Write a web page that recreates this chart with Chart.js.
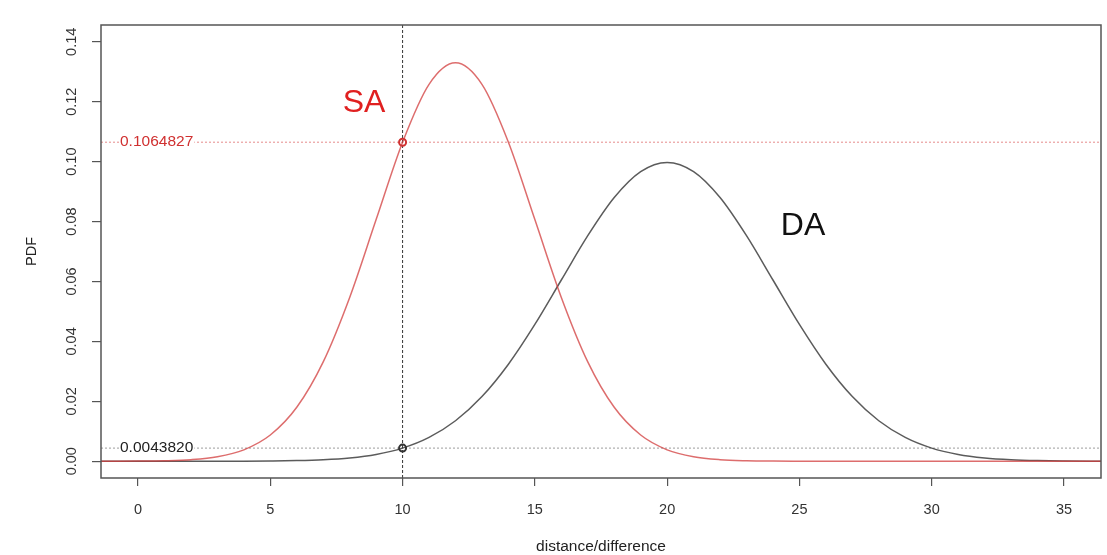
<!DOCTYPE html>
<html>
<head>
<meta charset="utf-8">
<script src="https://cdn.jsdelivr.net/npm/chart.js@4/dist/chart.umd.min.js"></script>
<style>
  html, body { margin: 0; padding: 0; background: #fff; }
  #wrap { width: 1107px; height: 555px; }
</style>
</head>
<body>
<div id="wrap"><canvas id="pdfChart"></canvas></div>
<script>
// x positions the curves were read at
const xValues = [-2, -1, 0, 1, 2, 3, 4, 5, 6, 7, 8, 9, 10, 11, 12, 13, 14, 15, 16, 17,
                 18, 19, 20, 21, 22, 23, 24, 25, 26, 27, 28, 29, 30, 31, 32, 33, 34, 35, 36, 37];
// SA curve (red)
const saPdf = [0, 0.00001, 0.00004, 0.00016, 0.00051, 0.00148, 0.0038, 0.00874, 0.018, 0.03316,
               0.05467, 0.08066, 0.10648, 0.12579, 0.13298, 0.12579, 0.10648, 0.08066, 0.05467, 0.03316,
               0.018, 0.00874, 0.0038, 0.00148, 0.00051, 0.00016, 0.00004, 0.00001, 0, 0,
               0, 0, 0, 0, 0, 0, 0, 0, 0, 0];
// DA curve (black)
const daPdf = [0, 0, 0, 0, 0, 0.00001, 0.00003, 0.00009, 0.00022, 0.00051,
               0.00111, 0.00227, 0.00438, 0.00794, 0.0135, 0.02157, 0.03238, 0.04566, 0.06049, 0.07528,
               0.08802, 0.09667, 0.09974, 0.09667, 0.08802, 0.07528, 0.06049, 0.04566, 0.03238, 0.02157,
               0.0135, 0.00794, 0.00438, 0.00227, 0.00111, 0.00051, 0.00022, 0.00009, 0.00003, 0.00001];
const xTicks = [0, 5, 10, 15, 20, 25, 30, 35];
const yTicks = [0, 0.02, 0.04, 0.06, 0.08, 0.10, 0.12, 0.14];
const yTickLabels = ["0.00", "0.02", "0.04", "0.06", "0.08", "0.10", "0.12", "0.14"];
const cutX = 10;
const saAtCut = 0.1064827;
const daAtCut = 0.0043820;
const saLabel = "0.1064827";
const daLabel = "0.0043820";

const RED = "rgba(210, 60, 60, 0.75)";
const DARK = "rgba(50, 50, 50, 0.8)";
const FONT = "'Liberation Sans', Arial, sans-serif";

const toPoints = ys => xValues.map((x, i) => ({ x: x, y: ys[i] }));

const decorations = {
    id: "decorations",
    beforeDatasetsDraw(chart) {
        const { ctx, chartArea: a, scales: { x, y } } = chart;
        ctx.save();
        ctx.lineWidth = 1;
        // horizontal guides
        ctx.setLineDash([2, 2]);
        ctx.strokeStyle = "rgba(220, 90, 90, 0.7)";
        let py = y.getPixelForValue(saAtCut);
        ctx.beginPath(); ctx.moveTo(a.left, py); ctx.lineTo(a.right, py); ctx.stroke();
        ctx.strokeStyle = "rgba(90, 90, 90, 0.6)";
        py = y.getPixelForValue(daAtCut);
        ctx.beginPath(); ctx.moveTo(a.left, py); ctx.lineTo(a.right, py); ctx.stroke();
        // vertical guide
        ctx.strokeStyle = "#333";
        ctx.setLineDash([3, 2]);
        const px = x.getPixelForValue(cutX);
        ctx.beginPath(); ctx.moveTo(px, a.top); ctx.lineTo(px, a.bottom); ctx.stroke();
        ctx.restore();
    },
    afterDraw(chart) {
        const { ctx, chartArea: a, scales: { x, y } } = chart;
        ctx.save();
        // box
        ctx.strokeStyle = "#555";
        ctx.lineWidth = 1.5;
        ctx.strokeRect(a.left, a.top, a.right - a.left, a.bottom - a.top);

        // value labels on the guides
        ctx.font = "15.5px " + FONT;
        ctx.textBaseline = "middle";
        ctx.textAlign = "left";
        [[saLabel, saAtCut, "#d03030"], [daLabel, daAtCut, "#222"]].forEach(([t, v, c]) => {
            const py = y.getPixelForValue(v);
            const w = ctx.measureText(t).width;
            ctx.fillStyle = "#fff";
            ctx.fillRect(119, py - 7, w + 2, 14);
            ctx.fillStyle = c;
            ctx.fillText(t, 120, py);
        });

        // rotated y tick labels
        ctx.font = "14.5px " + FONT;
        ctx.fillStyle = "#333";
        ctx.textAlign = "center";
        yTicks.forEach((v, i) => {
            ctx.save();
            ctx.translate(72, y.getPixelForValue(v));
            ctx.rotate(-Math.PI / 2);
            ctx.fillText(yTickLabels[i], 0, 0);
            ctx.restore();
        });

        // axis titles
        ctx.fillStyle = "#222";
        ctx.save();
        ctx.translate(32, (a.top + a.bottom) / 2);
        ctx.rotate(-Math.PI / 2);
        ctx.fillText("PDF", 0, 0);
        ctx.restore();
        ctx.font = "15.5px " + FONT;
        ctx.fillText("distance/difference", (a.left + a.right) / 2, 547);

        // curve names
        ctx.font = "32px " + FONT;
        ctx.fillStyle = "#e02020";
        ctx.fillText("SA", 364, 103);
        ctx.fillStyle = "#111";
        ctx.fillText("DA", 803, 226);
        ctx.restore();
    }
};

const chart = new Chart(document.getElementById("pdfChart"), {
    type: "line",
    data: {
        datasets: [
            {
                label: "SA",
                data: toPoints(saPdf),
                borderColor: RED,
                borderWidth: 1.5,
                pointRadius: 0,
                cubicInterpolationMode: "monotone"
            },
            {
                label: "DA",
                data: toPoints(daPdf),
                borderColor: DARK,
                borderWidth: 1.5,
                pointRadius: 0,
                cubicInterpolationMode: "monotone"
            },
            {
                label: "SA at cut",
                data: [{ x: cutX, y: saAtCut }],
                showLine: false,
                pointRadius: 3.5,
                pointBorderWidth: 2,
                pointBorderColor: "#d03030",
                pointBackgroundColor: "rgba(0,0,0,0)"
            },
            {
                label: "DA at cut",
                data: [{ x: cutX, y: daAtCut }],
                showLine: false,
                pointRadius: 3.5,
                pointBorderWidth: 2,
                pointBorderColor: "#333",
                pointBackgroundColor: "rgba(0,0,0,0)"
            }
        ]
    },
    options: {
        responsive: true,
        maintainAspectRatio: false,
        animation: false,
        layout: { padding: { top: 25, right: 5, left: 0, bottom: 0 } },
        plugins: { legend: { display: false }, tooltip: { enabled: false } },
        scales: {
            x: {
                type: "linear",
                min: -1.4,
                max: 36.4,
                afterBuildTicks: s => { s.ticks = xTicks.map(v => ({ value: v })); },
                afterFit: s => { s.height = 77; },
                grid: { drawOnChartArea: false, drawTicks: true, tickLength: 8, color: "#555", lineWidth: 1.2 },
                border: { display: false },
                ticks: { color: "#333", font: { size: 14.5, family: FONT }, padding: 15, maxRotation: 0 }
            },
            y: {
                min: -0.0056,
                max: 0.1456,
                afterBuildTicks: s => { s.ticks = yTicks.map(v => ({ value: v })); },
                afterFit: s => { s.width = 101; },
                grid: { drawOnChartArea: false, drawTicks: true, tickLength: 9, color: "#555", lineWidth: 1.2 },
                border: { display: false },
                ticks: { display: false }
            }
        }
    },
    plugins: [decorations]
});
</script>
</body>
</html>
